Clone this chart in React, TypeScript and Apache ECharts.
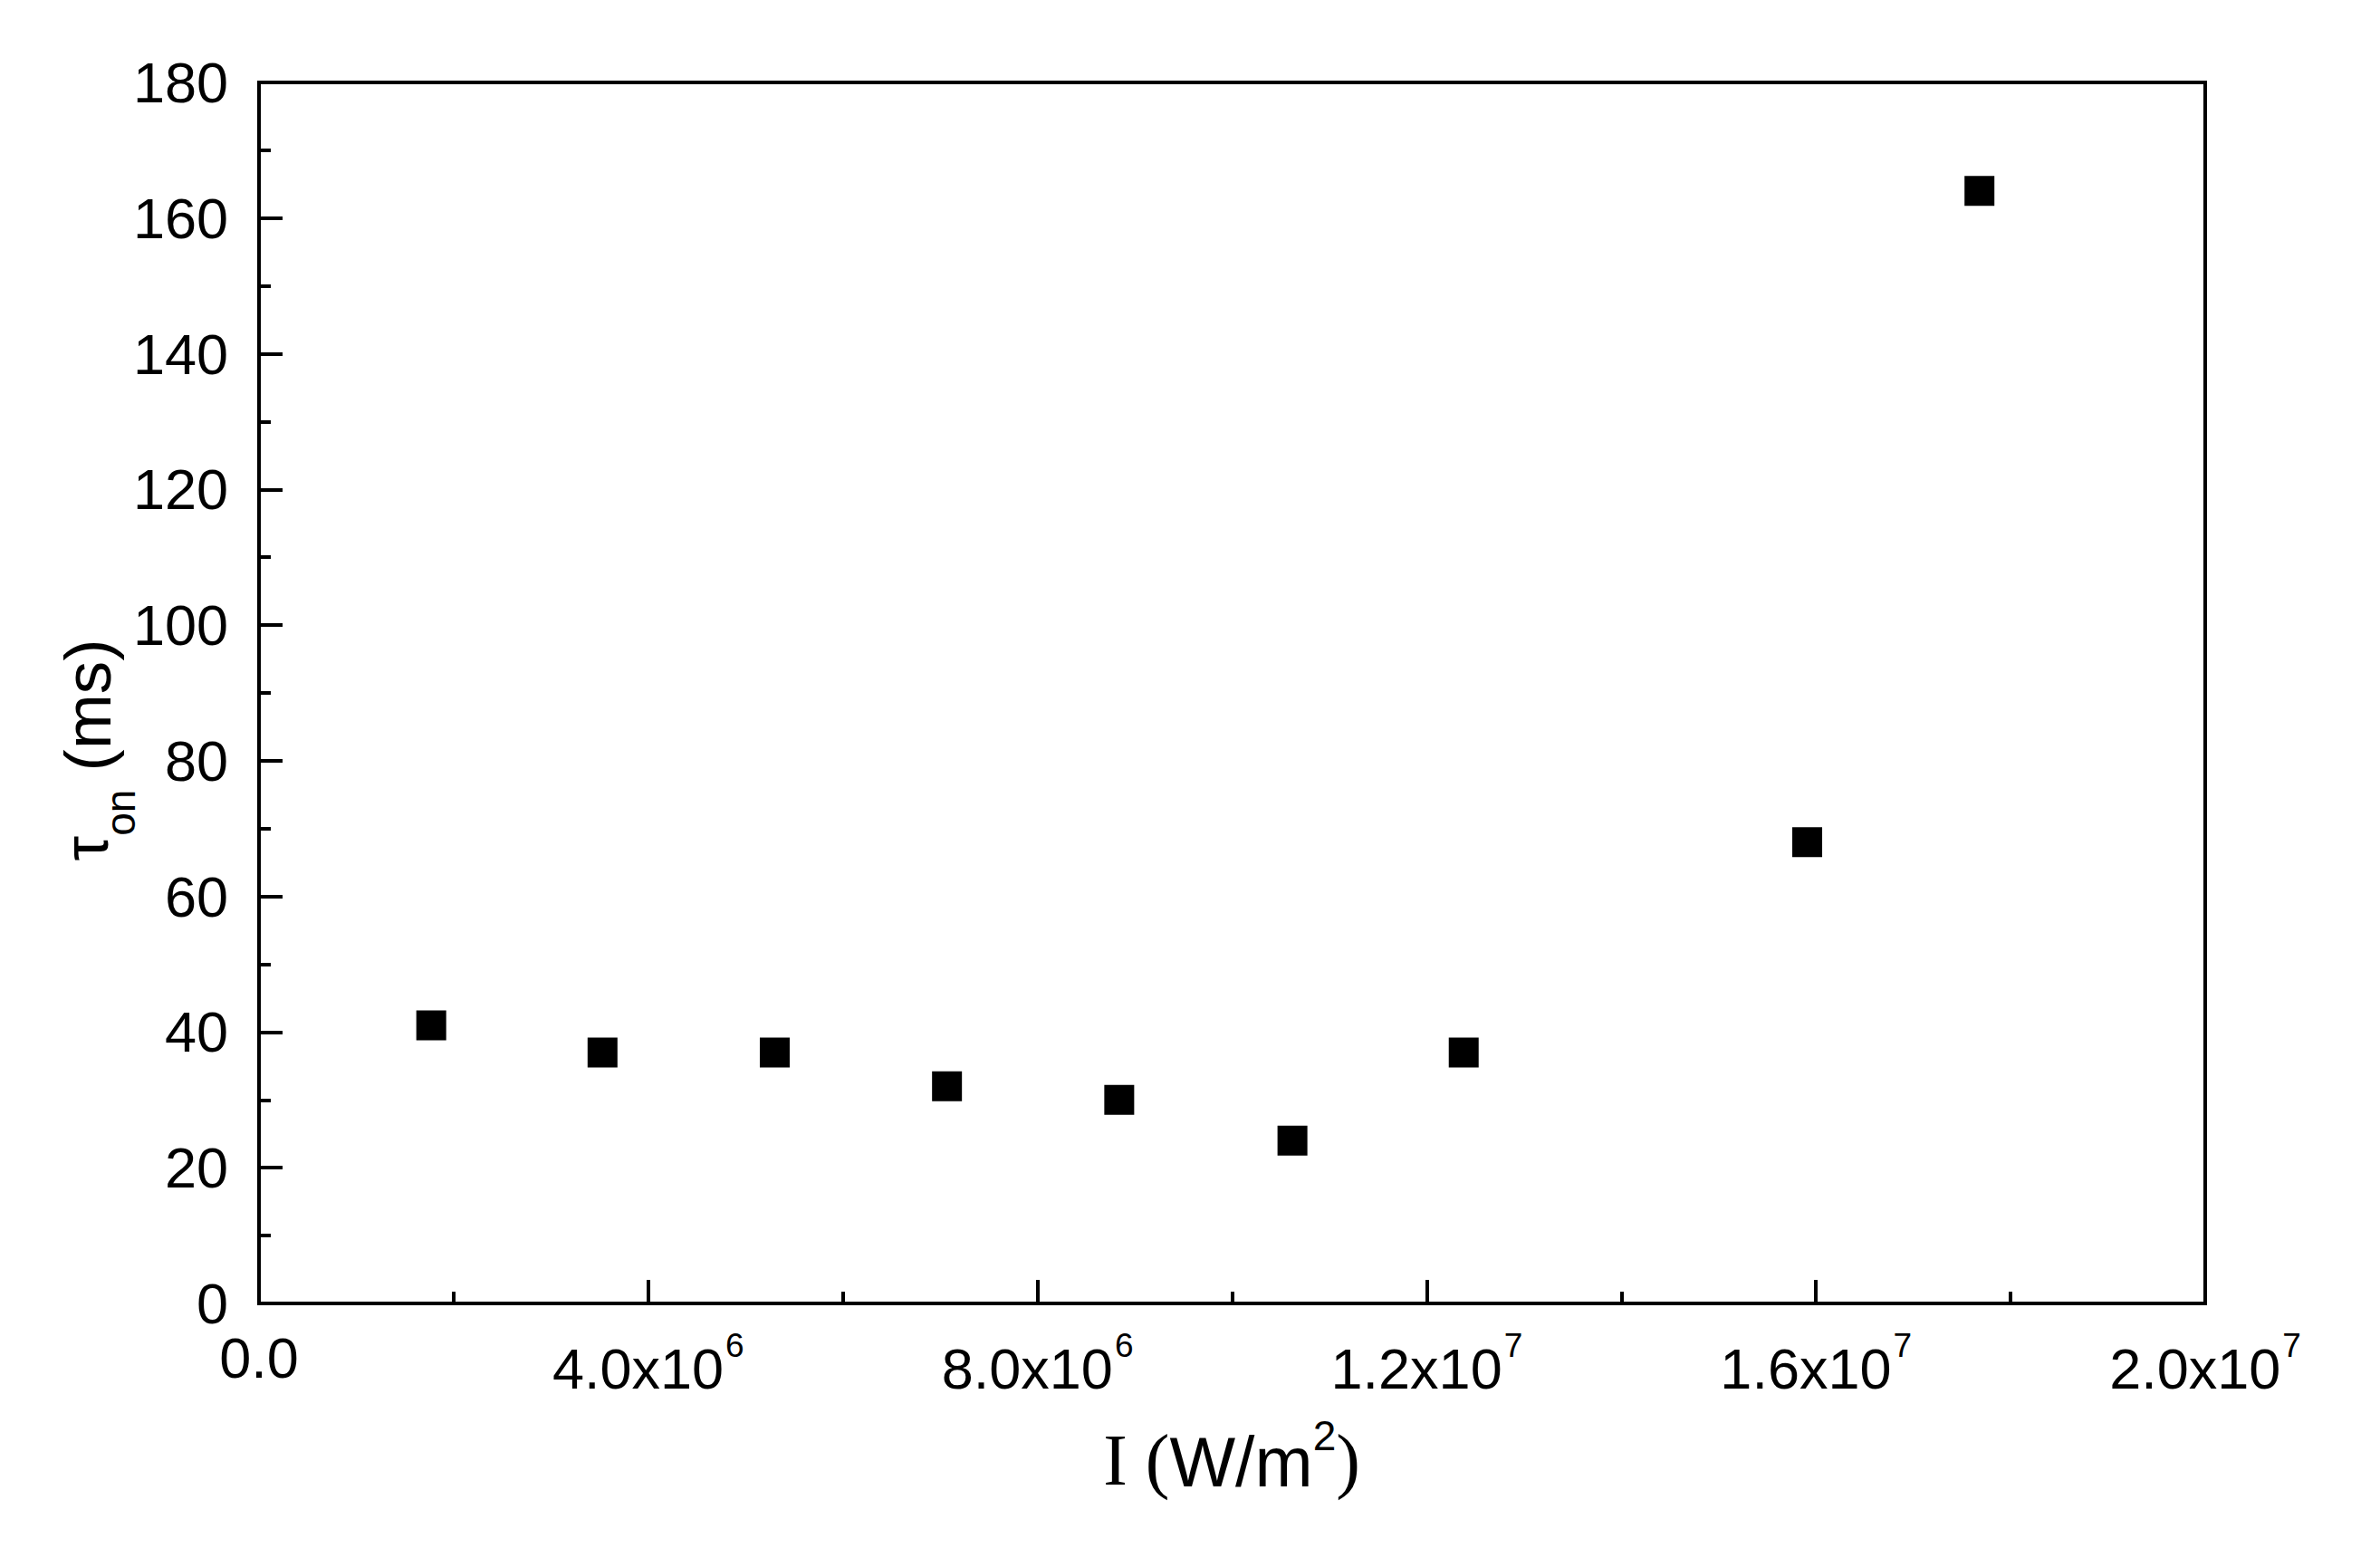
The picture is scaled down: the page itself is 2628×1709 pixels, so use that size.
import React, { useEffect, useRef } from "react";
import * as echarts from "echarts";

// Data
const intensity = [1.77e6, 3.53e6, 5.3e6, 7.07e6, 8.84e6, 1.062e7, 1.238e7, 1.591e7, 1.768e7];
const tauOn = [41, 37, 37, 32, 30, 24, 37, 68, 164];

// Tick labels of the x axis: [mantissa part, exponent]
const xTickValues = [0, 4e6, 8e6, 1.2e7, 1.6e7, 2e7];
const xTickMantissa = ["0.0", "4.0x10", "8.0x10", "1.2x10", "1.6x10", "2.0x10"];
const xTickExponent = ["", "6", "6", "7", "7", "7"];

const SANS = "Liberation Sans, Arial, sans-serif";
const SERIF = "Liberation Serif, Times New Roman, serif";

export default function App() {
  const ref = useRef<HTMLDivElement>(null);

  useEffect(() => {
    if (!ref.current) return;
    const chart = echarts.init(ref.current, undefined, { renderer: "svg" });

    const data = intensity.map((x, i) => [x, tauOn[i]]);

    const option: any = {
      animation: false,
      backgroundColor: "#ffffff",
      grid: {
        left: 286,
        top: 91,
        width: 2149,
        height: 1348,
        show: true,
        borderColor: "#000",
        borderWidth: 4,
        backgroundColor: "transparent",
      },
      xAxis: {
        type: "value",
        min: 0,
        max: 2e7,
        interval: 4e6,
        axisLine: { show: true, lineStyle: { color: "#000", width: 4 } },
        axisTick: { show: true, inside: true, length: 26, lineStyle: { color: "#000", width: 4 } },
        minorTick: { show: true, splitNumber: 2, length: 13, lineStyle: { color: "#000", width: 4 } },
        splitLine: { show: false },
        minorSplitLine: { show: false },
        axisLabel: {
          show: true,
          margin: 28,
          hideOverlap: false,
          showMinLabel: true,
          showMaxLabel: true,
          color: "#000",
          formatter: (v: number) => {
            let idx = -1;
            xTickValues.forEach((t, i) => {
              if (Math.abs(t - v) < 1) idx = i;
            });
            if (idx < 0) return "";
            if (!xTickExponent[idx]) return `{z|${xTickMantissa[idx]}}`;
            return `{b|${xTickMantissa[idx]}}{s|${xTickExponent[idx]}}`;
          },
          rich: {
            z: { fontFamily: SANS, fontSize: 63, lineHeight: 63, color: "#000" },
            b: { fontFamily: SANS, fontSize: 63, lineHeight: 63, color: "#000", verticalAlign: "bottom" },
            s: { fontFamily: SANS, fontSize: 37, lineHeight: 75, color: "#000", verticalAlign: "top", padding: [0, 0, 0, 2] },
          },
        },
      },
      yAxis: {
        type: "value",
        min: 0,
        max: 180,
        interval: 20,
        axisLine: { show: true, lineStyle: { color: "#000", width: 4 } },
        axisTick: { show: true, inside: true, length: 26, lineStyle: { color: "#000", width: 4 } },
        minorTick: { show: true, splitNumber: 2, length: 13, lineStyle: { color: "#000", width: 4 } },
        splitLine: { show: false },
        minorSplitLine: { show: false },
        axisLabel: {
          show: true,
          margin: 34,
          color: "#000",
          fontFamily: SANS,
          fontSize: 63,
        },
      },
      graphic: [
        {
          type: "text",
          x: 1360,
          y: 1607,
          style: {
            text: "{i|I (}{w|W/m}{p|2}{c|)}",
            align: "center",
            verticalAlign: "middle",
            rich: {
              i: { fontFamily: SERIF, fontSize: 80, lineHeight: 90, fill: "#000", verticalAlign: "bottom" },
              w: { fontFamily: SANS, fontSize: 77, lineHeight: 90, fill: "#000", verticalAlign: "bottom" },
              p: { fontFamily: SANS, fontSize: 46, lineHeight: 60, fill: "#000", verticalAlign: "top" },
              c: { fontFamily: SERIF, fontSize: 80, lineHeight: 90, fill: "#000", verticalAlign: "bottom" },
            },
          },
        },
        {
          type: "text",
          x: 108,
          y: 828,
          rotation: Math.PI / 2,
          style: {
            text: "{t|τ}{o|on}{m| (ms)}",
            align: "center",
            verticalAlign: "middle",
            rich: {
              t: { fontFamily: SANS, fontSize: 70, lineHeight: 75, fill: "#000", verticalAlign: "top" },
              o: { fontFamily: SANS, fontSize: 46, lineHeight: 96, fill: "#000", verticalAlign: "bottom" },
              m: { fontFamily: SANS, fontSize: 73, lineHeight: 75, fill: "#000", verticalAlign: "top" },
            },
          },
        },
      ],
      series: [
        {
          type: "scatter",
          data,
          symbol: "rect",
          symbolSize: 33,
          itemStyle: { color: "#000", opacity: 1 },
        },
      ],
    };

    chart.setOption(option);

    return () => chart.dispose();
  }, []);

  return (
    <div
      ref={ref}
      style={{ position: "absolute", left: 0, top: 0, width: 2628, height: 1709 }}
    />
  );
}
